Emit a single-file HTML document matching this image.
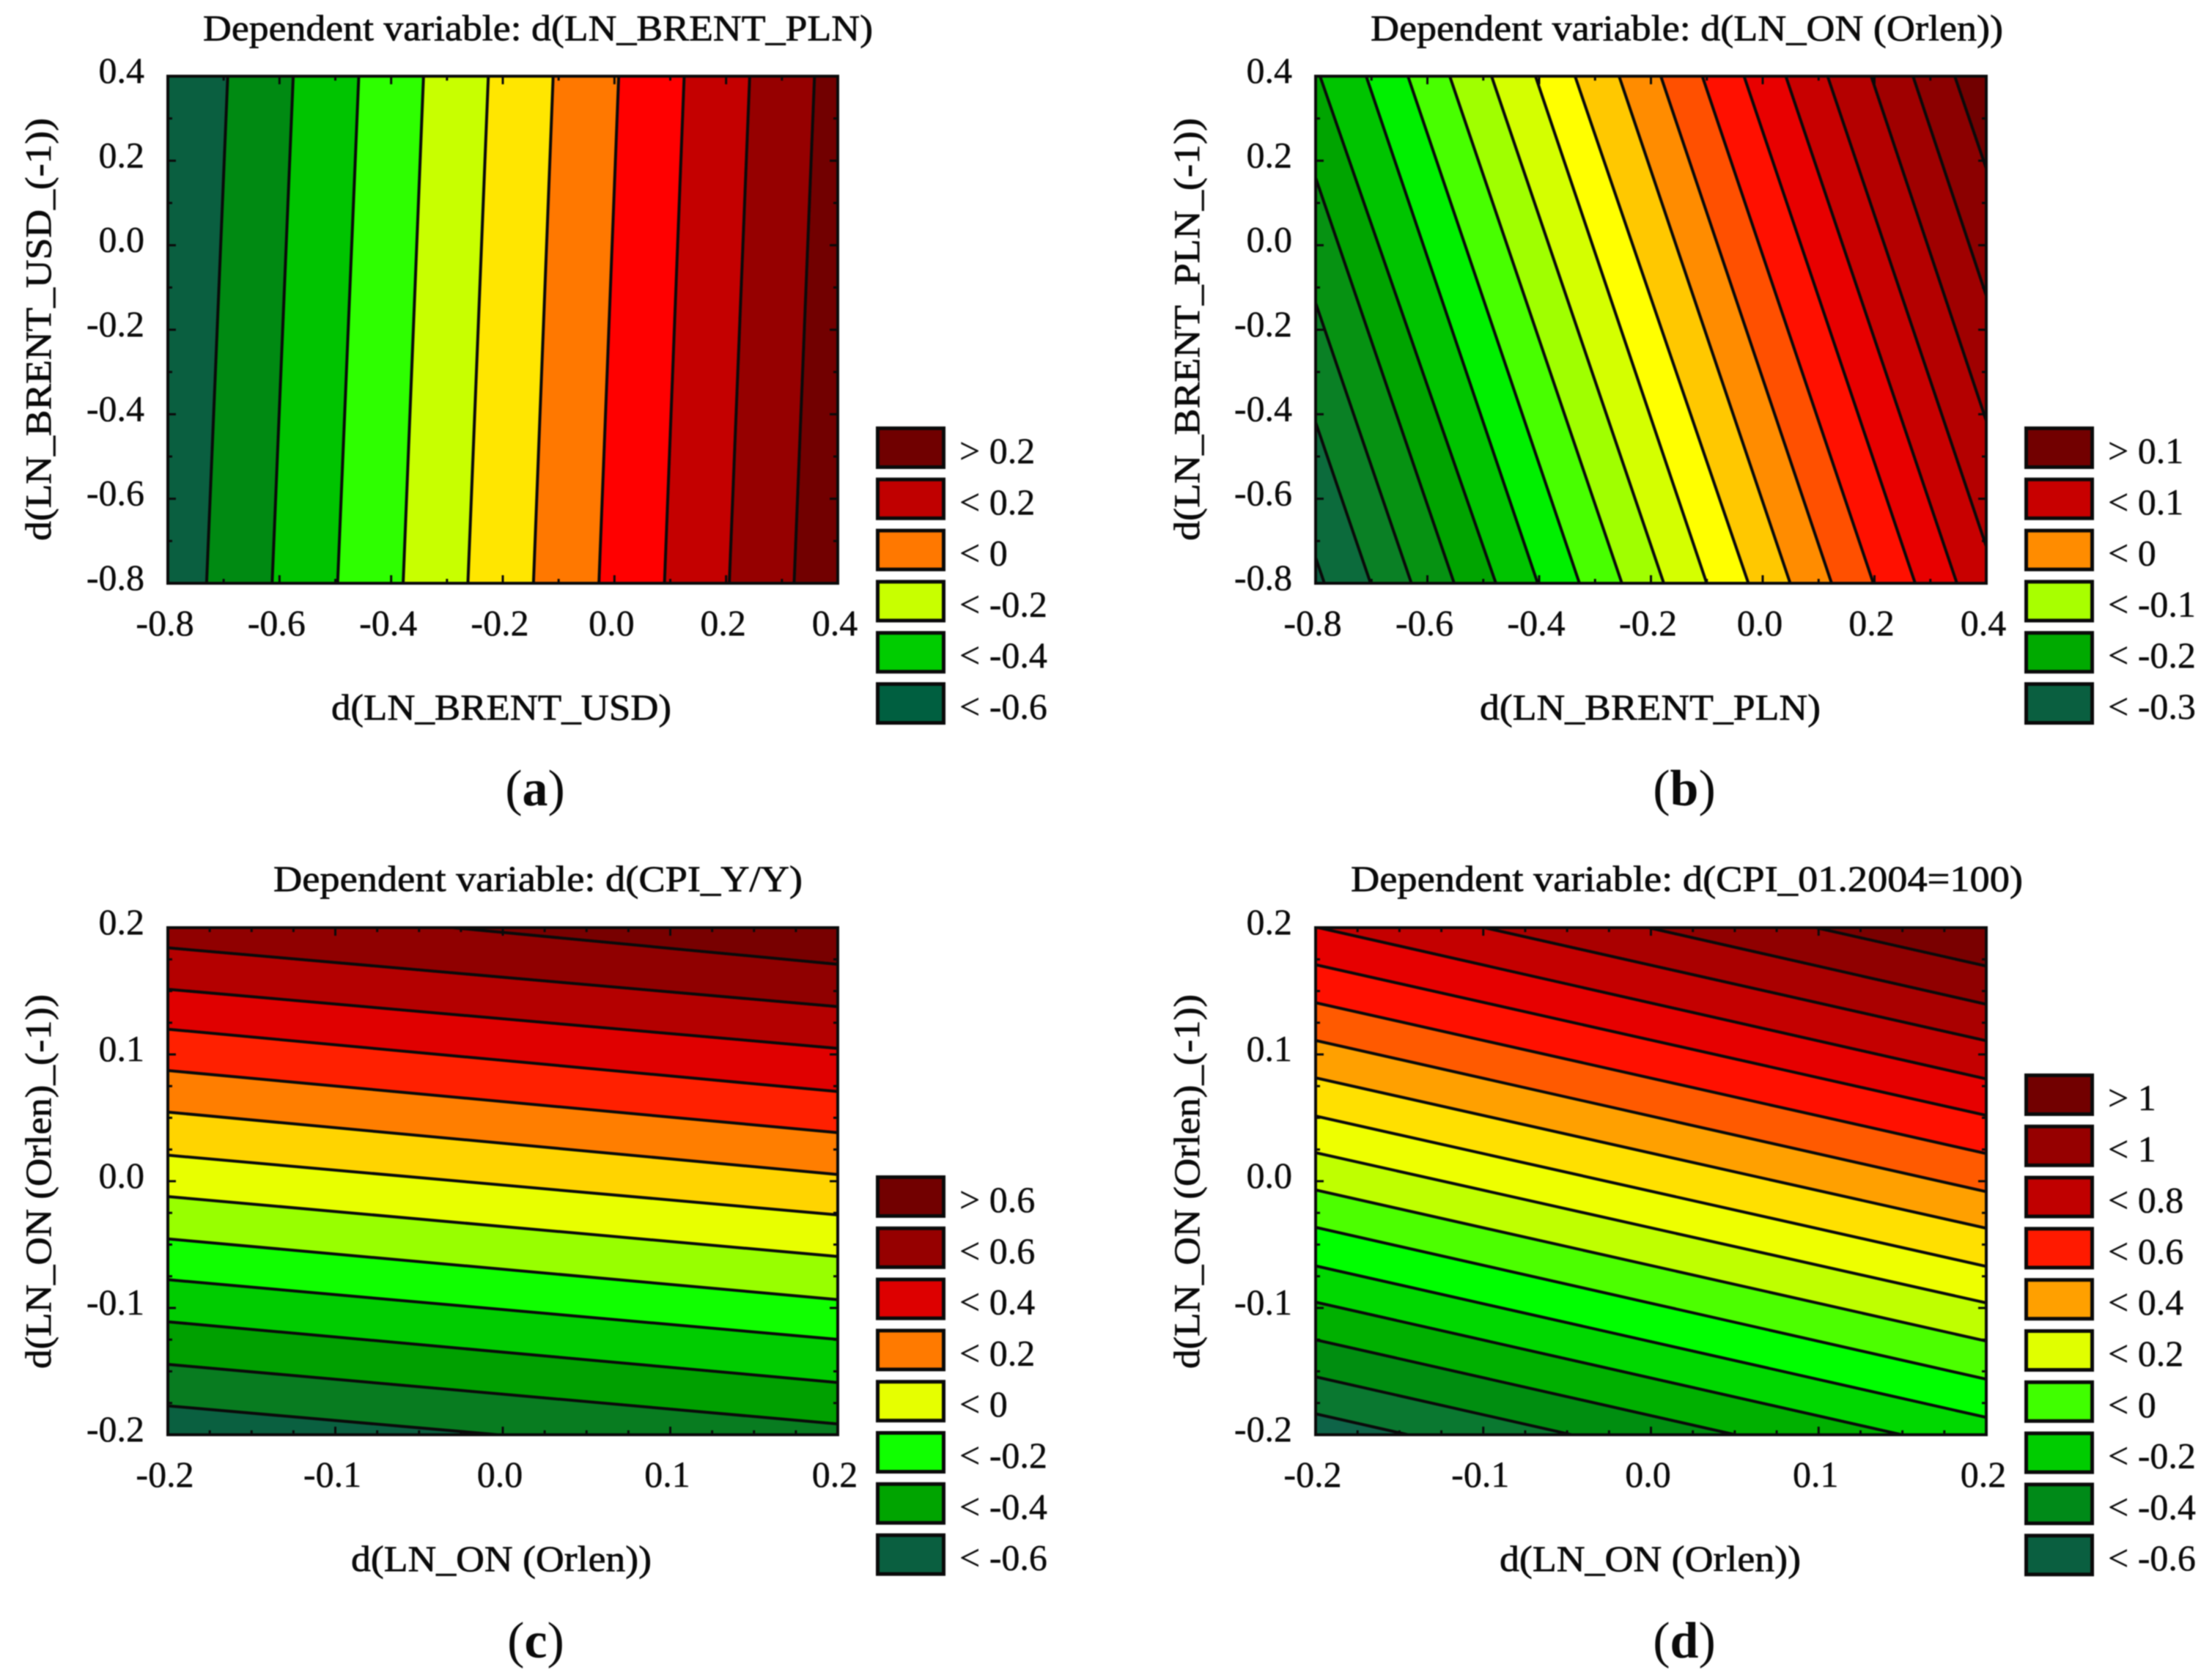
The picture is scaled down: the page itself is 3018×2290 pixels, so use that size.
<!DOCTYPE html>
<html lang="en">
<head>
<meta charset="utf-8">
<title>Contour plots of dependent variables</title>
<style>
  html, body { margin: 0; padding: 0; background: #ffffff; width: 3018px; height: 2290px; overflow: hidden; }
  #figure { display: block; width: 3018px; height: 2290px; filter: blur(0.7px); }
  text { font-family: "Liberation Serif", serif; fill: #0a0a0a; }
</style>
</head>
<body>
<svg id="figure" xmlns="http://www.w3.org/2000/svg" width="3018" height="2290" viewBox="0 0 3018 2290"></svg>
<script>
// ---- Axis ticks ----
const wideTickLabels = ['-0.8', '-0.6', '-0.4', '-0.2', '0.0', '0.2', '0.4'];
const narrowTickLabels = ['-0.2', '-0.1', '0.0', '0.1', '0.2'];

// ---- Panel (a): contour crossings, x value at y=min and y=max ----
const aBottomX = [-0.7306, -0.6132, -0.4959, -0.3785, -0.2625, -0.1451, -0.0278, 0.0896, 0.2057, 0.3218];
const aTopX = [-0.6927, -0.5754, -0.4580, -0.3420, -0.2259, -0.1098, 0.0076, 0.1249, 0.2423, 0.3584];
const aLegendLabels = ['> 0.2', '< 0.2', '< 0', '< -0.2', '< -0.4', '< -0.6'];

// ---- Panel (b): contour crossings, x value at y=min and y=max ----
const bBottomX = [-0.7843, -0.7016, -0.6286, -0.5521, -0.4774, -0.4026, -0.3279, -0.2520, -0.1770, -0.1002, -0.0256, 0.0492, 0.1233, 0.1980, 0.2728, 0.3475, 0.4223, 0.4971, 0.5719, 0.6536];
const bTopX = [-1.0943, -1.0116, -0.9386, -0.8621, -0.7921, -0.7095, -0.6348, -0.5600, -0.4852, -0.4066, -0.3358, -0.2570, -0.1823, -0.1081, -0.0334, 0.0413, 0.1161, 0.1941, 0.2689, 0.3436];
const bLegendLabels = ['> 0.1', '< 0.1', '< 0', '< -0.1', '< -0.2', '< -0.3'];

// ---- Panel (c): contour crossings, y value at x=min and x=max ----
const cLeftY = [0.2214, 0.1841, 0.1514, 0.1199, 0.0873, 0.0545, 0.0205, -0.0121, -0.0455, -0.0777, -0.1109, -0.1445, -0.1772];
const cRightY = [0.1711, 0.1377, 0.1048, 0.0707, 0.0383, 0.0053, -0.0266, -0.0594, -0.0934, -0.1248, -0.1588, -0.1915, -0.2235];
const cLegendLabels = ['> 0.6', '< 0.6', '< 0.4', '< 0.2', '< 0', '< -0.2', '< -0.4', '< -0.6'];

// ---- Panel (d): contour crossings, y value at x=min and x=max ----
const dLeftY = [0.2890, 0.2595, 0.2300, 0.2005, 0.1708, 0.1408, 0.1110, 0.0815, 0.0514, 0.0225, -0.0069, -0.0364, -0.0668, -0.0954, -0.1251, -0.1543, -0.1835];
const dRightY = [0.1697, 0.1396, 0.1108, 0.0807, 0.0519, 0.0218, -0.0083, -0.0371, -0.0672, -0.0960, -0.1261, -0.1562, -0.1863, -0.2151, -0.2448, -0.2740, -0.3032];
const dLegendLabels = ['> 1', '< 1', '< 0.8', '< 0.6', '< 0.4', '< 0.2', '< 0', '< -0.2', '< -0.4', '< -0.6'];

// ---- Band and legend colours ----
const aBandColors = ['#0a5f40', '#008a12', '#00c400', '#2eff00', '#c8ff00', '#ffe600', '#ff7800', '#ff0000', '#c40000', '#960000', '#720000'];
const bBandColors = ['#0d5f42', '#0c6b3c', '#0a8025', '#069212', '#00a400', '#00c400', '#00f000', '#48ff00', '#a0ff00', '#d4ff00', '#ffff00', '#ffc800', '#ff8c00', '#ff5000', '#ff1000', '#e80000', '#c80000', '#b40000', '#a00000', '#8c0000', '#720000'];
const cBandColors = ['#780000', '#900000', '#b40000', '#e00000', '#ff2000', '#ff7e00', '#ffd400', '#e8ff00', '#98ff00', '#10ff00', '#00cc00', '#00a000', '#087c20', '#0a6040'];
const dBandColors = ['#7a0000', '#900000', '#aa0000', '#c40000', '#e60000', '#ff1000', '#ff5a00', '#ffa000', '#ffe000', '#eeff00', '#bfff00', '#4cff00', '#00ff00', '#00d800', '#00b000', '#008e10', '#0a7830', '#0e6448'];
const aLegendColors = ['#700000', '#c00000', '#ff7800', '#c8ff00', '#00cc00', '#005f40'];
const bLegendColors = ['#720000', '#c80000', '#ff8c00', '#a8ff00', '#00aa00', '#0a5f40'];
const cLegendColors = ['#720000', '#960000', '#dd0000', '#ff7a00', '#e6ff00', '#10ff00', '#00a400', '#0a5f40'];
const dLegendColors = ['#720000', '#960000', '#c00000', '#ff1a00', '#ffa000', '#e0ff00', '#40ff00', '#00cc00', '#008a18', '#0a5f40'];

const SVG_NS = 'http://www.w3.org/2000/svg';
const root = document.getElementById('figure');

function make(tag, attrs, parent) {
  const el = document.createElementNS(SVG_NS, tag);
  for (const key in attrs) el.setAttribute(key, attrs[key]);
  parent.appendChild(el);
  return el;
}

function makeText(content, attrs, parent) {
  const el = make('text', attrs, parent);
  el.textContent = content;
  return el;
}

function drawPanel(p) {
  const panel = make('g', {}, root);
  
  

  const xMin = Number(p.xTicks[0]);
  const xMax = Number(p.xTicks[p.xTicks.length - 1]);
  const yMin = Number(p.yTicks[0]);
  const yMax = Number(p.yTicks[p.yTicks.length - 1]);
  const sx = v => p.left + (v - xMin) / (xMax - xMin) * (p.right - p.left);
  const sy = v => p.bottom - (v - yMin) / (yMax - yMin) * (p.bottom - p.top);

  const clip = make('clipPath', { id: 'clip-' + p.id }, panel);
  make('rect', { x: p.left, y: p.top, width: p.right - p.left, height: p.bottom - p.top }, clip);

  const plot = make('g', { 'clip-path': 'url(#clip-' + p.id + ')' }, panel);
  
  

  // Each contour is a pair of crossings on opposite plot edges.
  // The outermost bands are closed along the plot edge itself.
  const boundary = (i) => {
    const first = p.startValues, last = p.endValues;
    if (p.orient === 'vertical') {
      if (i < 0) return [[xMin, yMin], [xMin, yMax]];
      if (i >= first.length) return [[xMax, yMin], [xMax, yMax]];
      return [[first[i], yMin], [last[i], yMax]];
    }
    if (i < 0) return [[xMin, yMax], [xMax, yMax]];
    if (i >= first.length) return [[xMin, yMin], [xMax, yMin]];
    return [[xMin, first[i]], [xMax, last[i]]];
  };

  p.bandColors.forEach((color, k) => {
    const a = boundary(k - 1), b = boundary(k);
    const pts = [a[0], a[1], b[1], b[0]].map(q => sx(q[0]) + ',' + sy(q[1])).join(' ');
    const band = make('polygon', { points: pts, fill: color, stroke: color, 'stroke-width': 1 }, plot);
    
    
  });

  p.startValues.forEach((_, i) => {
    const seg = boundary(i);
    const line = make('line', {
      x1: sx(seg[0][0]), y1: sy(seg[0][1]), x2: sx(seg[1][0]), y2: sy(seg[1][1]),
      stroke: '#0a0a0a', 'stroke-width': 4
    }, plot);
    
    
  });

  // Ticks: majors at the labelled values, minors subdividing them.
  const drawTicks = (labels, minorParts, place) => {
    const vals = labels.map(Number);
    for (let i = 0; i < vals.length; i++) {
      place(vals[i], 11);
      if (i < vals.length - 1) {
        for (let m = 1; m < minorParts; m++) {
          place(vals[i] + (vals[i + 1] - vals[i]) * m / minorParts, 6);
        }
      }
    }
  };
  const ticks = make('g', { stroke: '#0a0a0a', 'stroke-width': 3 }, panel);
  
  
  drawTicks(p.xTicks, p.minorParts, (v, len) => {
    make('line', { x1: sx(v), x2: sx(v), y1: p.bottom, y2: p.bottom - len }, ticks);
    make('line', { x1: sx(v), x2: sx(v), y1: p.top, y2: p.top + len }, ticks);
  });
  drawTicks(p.yTicks, p.minorParts, (v, len) => {
    make('line', { y1: sy(v), y2: sy(v), x1: p.left, x2: p.left + len }, ticks);
    make('line', { y1: sy(v), y2: sy(v), x1: p.right, x2: p.right - len }, ticks);
  });

  const frame = make('rect', {
    x: p.left, y: p.top, width: p.right - p.left, height: p.bottom - p.top,
    fill: 'none', stroke: '#0a0a0a', 'stroke-width': 4
  }, panel);
  
  

  p.xTicks.forEach(label => {
    const t = makeText(label, {
      x: sx(Number(label)) - 4, y: p.bottom + 71, 'text-anchor': 'middle', 'font-size': 50,
      stroke: '#0a0a0a', 'stroke-width': 0.4
    }, panel);
    
    
  });
  p.yTicks.forEach(label => {
    const t = makeText(label, {
      x: p.left - 32, y: sy(Number(label)) + 9, 'text-anchor': 'end', 'font-size': 50,
      stroke: '#0a0a0a', 'stroke-width': 0.4
    }, panel);
    
    
  });

  const title = makeText(p.title, {
    x: p.titleX0, y: p.titleY, 'font-size': 50, textLength: p.titleX1 - p.titleX0,
    lengthAdjust: 'spacingAndGlyphs', stroke: '#0a0a0a', 'stroke-width': 0.7
  }, panel);
  
  

  const xTitle = makeText(p.xTitle, {
    x: p.xTitleX0, y: p.xTitleY, 'font-size': 50, textLength: p.xTitleX1 - p.xTitleX0,
    lengthAdjust: 'spacingAndGlyphs', stroke: '#0a0a0a', 'stroke-width': 0.7
  }, panel);
  
  

  const yTitle = makeText(p.yTitle, {
    x: 0, y: 0, 'font-size': 50, textLength: p.yTitleBottom - p.yTitleTop,
    lengthAdjust: 'spacingAndGlyphs', stroke: '#0a0a0a', 'stroke-width': 0.7,
    transform: 'translate(' + p.yTitleX + ',' + p.yTitleBottom + ') rotate(-90)'
  }, panel);
  
  

  // Legend
  const legend = make('g', {}, panel);
  
  
  p.legendLabels.forEach((label, i) => {
    const top = p.legendTop + i * 69.8;
    const swatch = make('rect', {
      x: p.right + 54.5, y: top + 2.5, width: 90, height: 53,
      fill: p.legendColors[i], stroke: '#0a0a0a', 'stroke-width': 5
    }, legend);
    
    
    const t = makeText(label, {
      x: p.right + 166, y: top + 50, 'font-size': 50, stroke: '#0a0a0a', 'stroke-width': 0.4
    }, legend);
    
    
  });

  // Sub-figure caption
  const caption = make('text', {
    x: p.captionX, y: p.captionY, 'text-anchor': 'middle', 'font-size': 70
  }, panel);
  
  
  caption.appendChild(document.createTextNode('('));
  const letter = make('tspan', { 'font-weight': 'bold' }, caption);
  letter.textContent = p.id;
  caption.appendChild(document.createTextNode(')'));
}

drawPanel({
  id: 'a', orient: 'vertical', left: 229, right: 1143, top: 104, bottom: 796,
  xTicks: wideTickLabels, yTicks: wideTickLabels, minorParts: 2,
  startValues: aBottomX, endValues: aTopX, bandColors: aBandColors,
  legendLabels: aLegendLabels, legendColors: aLegendColors, legendTop: 582,
  title: 'Dependent variable: d(LN_BRENT_PLN)', titleX0: 277, titleX1: 1191, titleY: 55,
  xTitle: 'd(LN_BRENT_USD)', xTitleX0: 452, xTitleX1: 916, xTitleY: 982,
  yTitle: 'd(LN_BRENT_USD_(-1))', yTitleX: 69, yTitleTop: 161, yTitleBottom: 738,
  captionX: 730, captionY: 1099
});

drawPanel({
  id: 'b', orient: 'vertical', left: 1795, right: 2710, top: 104, bottom: 796,
  xTicks: wideTickLabels, yTicks: wideTickLabels, minorParts: 2,
  startValues: bBottomX, endValues: bTopX, bandColors: bBandColors,
  legendLabels: bLegendLabels, legendColors: bLegendColors, legendTop: 582,
  title: 'Dependent variable: d(LN_ON (Orlen))', titleX0: 1870, titleX1: 2733, titleY: 55,
  xTitle: 'd(LN_BRENT_PLN)', xTitleX0: 2019, xTitleX1: 2484, xTitleY: 982,
  yTitle: 'd(LN_BRENT_PLN_(-1))', yTitleX: 1636, yTitleTop: 161, yTitleBottom: 738,
  captionX: 2298, captionY: 1099
});

drawPanel({
  id: 'c', orient: 'horizontal', left: 229, right: 1143, top: 1266, bottom: 1958,
  xTicks: narrowTickLabels, yTicks: narrowTickLabels, minorParts: 4,
  startValues: cLeftY, endValues: cRightY, bandColors: cBandColors,
  legendLabels: cLegendLabels, legendColors: cLegendColors, legendTop: 1604,
  title: 'Dependent variable: d(CPI_Y/Y)', titleX0: 373, titleX1: 1095, titleY: 1216,
  xTitle: 'd(LN_ON (Orlen))', xTitleX0: 479, xTitleX1: 889, xTitleY: 2144,
  yTitle: 'd(LN_ON (Orlen)_(-1))', yTitleX: 69, yTitleTop: 1357, yTitleBottom: 1868,
  captionX: 731, captionY: 2262
});

drawPanel({
  id: 'd', orient: 'horizontal', left: 1795, right: 2710, top: 1266, bottom: 1958,
  xTicks: narrowTickLabels, yTicks: narrowTickLabels, minorParts: 4,
  startValues: dLeftY, endValues: dRightY, bandColors: dBandColors,
  legendLabels: dLegendLabels, legendColors: dLegendColors, legendTop: 1465,
  title: 'Dependent variable: d(CPI_01.2004=100)', titleX0: 1843, titleX1: 2760, titleY: 1216,
  xTitle: 'd(LN_ON (Orlen))', xTitleX0: 2046, xTitleX1: 2457, xTitleY: 2144,
  yTitle: 'd(LN_ON (Orlen)_(-1))', yTitleX: 1636, yTitleTop: 1357, yTitleBottom: 1868,
  captionX: 2298, captionY: 2262
});
</script>
</body>
</html>
